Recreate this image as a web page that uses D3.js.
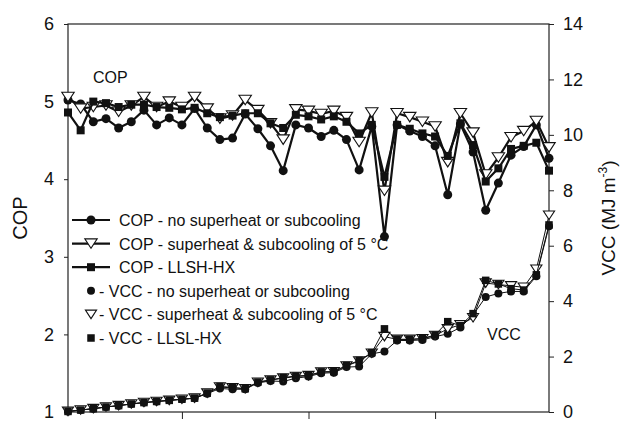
<!DOCTYPE html>
<html>
<head>
<meta charset="utf-8">
<script src="https://cdn.jsdelivr.net/npm/d3@7"></script>
<style>
  body { margin: 0; background: #fff; }
  svg text { font-family: "Liberation Sans", Arial, Helvetica, sans-serif; fill: #111; }
</style>
</head>
<body>
<div id="chart"></div>
<script>
// run number (x), unlabeled in the figure
const runs = [1, 2, 3, 4, 5, 6, 7, 8, 9, 10, 11, 12, 13, 14, 15, 16, 17, 18, 19, 20,
              21, 22, 23, 24, 25, 26, 27, 28, 29, 30, 31, 32, 33, 34, 35, 36, 37, 38, 39];
const runTicks = [10, 20, 30];
const copTicks = [1, 2, 3, 4, 5, 6];
const vccTicks = [0, 2, 4, 6, 8, 10, 12, 14];

// COP (left axis)
const copNone = [5.02, 4.97, 4.74, 4.78, 4.66, 4.74, 4.89, 4.70, 4.79, 4.70,
                 4.91, 4.66, 4.51, 4.53, 4.84, 4.65, 4.43, 4.11, 4.70, 4.66,
                 4.55, 4.63, 4.51, 4.12, 4.68, 3.26, 4.70, 4.62, 4.55, 4.43,
                 3.80, 4.71, 4.35, 3.60, 3.95, 4.31, 4.42, 4.70, 4.27];
const copSHSC = [5.06, 4.91, 4.93, 4.95, 4.87, 4.95, 5.06, 4.93, 5.00, 4.93,
                 5.06, 4.91, 4.78, 4.82, 5.02, 4.89, 4.72, 4.51, 4.90, 4.88,
                 4.84, 4.88, 4.80, 4.48, 4.86, 3.85, 4.85, 4.80, 4.74, 4.68,
                 4.22, 4.85, 4.60, 4.06, 4.28, 4.54, 4.62, 4.75, 4.41];
const copLLSH = [4.86, 4.63, 5.00, 4.98, 4.93, 4.96, 4.96, 4.93, 4.92, 4.90,
                 4.92, 4.85, 4.80, 4.82, 4.85, 4.85, 4.72, 4.66, 4.83, 4.81,
                 4.77, 4.81, 4.74, 4.59, 4.70, 4.03, 4.70, 4.65, 4.59, 4.55,
                 4.30, 4.72, 4.44, 3.97, 4.14, 4.39, 4.43, 4.47, 4.11];

// VCC in MJ m-3 (right axis)
const vccNone = [0.02, 0.07, 0.12, 0.18, 0.23, 0.29, 0.34, 0.38, 0.42, 0.46,
                 0.50, 0.66, 0.85, 0.82, 0.82, 1.05, 1.12, 1.10, 1.22, 1.28,
                 1.40, 1.42, 1.62, 1.64, 2.10, 2.18, 2.58, 2.58, 2.60, 2.72,
                 2.82, 3.05, 3.50, 4.15, 4.28, 4.35, 4.35, 4.90, 6.70];
const vccSHSC = [0.02, 0.07, 0.12, 0.18, 0.23, 0.29, 0.34, 0.38, 0.42, 0.46,
                 0.50, 0.68, 0.90, 0.87, 0.84, 1.07, 1.15, 1.22, 1.28, 1.31,
                 1.44, 1.45, 1.66, 1.84, 2.12, 2.72, 2.62, 2.62, 2.64, 2.76,
                 3.00, 3.15, 3.40, 4.65, 4.60, 4.55, 4.50, 5.15, 7.10];
const vccLLSL = [0.02, 0.07, 0.12, 0.18, 0.23, 0.29, 0.34, 0.38, 0.42, 0.46,
                 0.50, 0.68, 0.92, 0.89, 0.84, 1.08, 1.16, 1.24, 1.30, 1.32,
                 1.45, 1.46, 1.68, 1.86, 2.14, 3.00, 2.62, 2.62, 2.65, 2.78,
                 3.26, 3.12, 3.55, 4.75, 4.62, 4.45, 4.40, 4.95, 6.75];

const copLabels = ["COP - no superheat or subcooling",
                   "COP - superheat & subcooling of 5 \u00B0C",
                   "COP - LLSH-HX"];
const vccLabels = ["- VCC - no superheat or subcooling",
                   "- VCC - superheat & subcooling of 5 \u00B0C",
                   "- VCC - LLSL-HX"];

const W = 622, H = 421;
const plot = {left: 68, right: 549, top: 24, bottom: 412};

const svg = d3.select("#chart").append("svg")
    .attr("width", W)
    .attr("height", H);

const x = d3.scaleLinear().domain([1, 39]).range([plot.left, plot.right]);
const yCop = d3.scaleLinear().domain([1, 6]).range([plot.bottom, plot.top]);
const yVcc = d3.scaleLinear().domain([0, 14]).range([plot.bottom, plot.top]);

// marker shapes
function drawMarker(g, shape, cx, cy, s) {
    if (shape === "circle") {
        g.append("circle").attr("cx", cx).attr("cy", cy).attr("r", s / 2)
            .attr("fill", "#111");
    } else if (shape === "square") {
        g.append("rect").attr("x", cx - s / 2).attr("y", cy - s / 2)
            .attr("width", s).attr("height", s).attr("fill", "#111");
    } else {
        const w = s * 0.62, h = s * 0.95;
        g.append("path")
            .attr("d", `M${cx - w},${cy - h / 2}L${cx + w},${cy - h / 2}L${cx},${cy + h / 2}Z`)
            .attr("fill", "#fff").attr("stroke", "#111").attr("stroke-width", 1.1);
    }
}

// axes
svg.append("g")
    .attr("transform", `translate(${plot.left},0)`)
    .call(d3.axisLeft(yCop).tickValues(copTicks).tickFormat(d3.format("d"))
        .tickSize(4).tickPadding(10).tickSizeOuter(0))
    .call(g => g.select(".domain").remove())
    .call(g => g.selectAll("text").style("font-size", "18px"));

svg.append("g")
    .attr("transform", `translate(${plot.right},0)`)
    .call(d3.axisRight(yVcc).tickValues(vccTicks).tickFormat(d3.format("d"))
        .tickSize(5).tickPadding(9).tickSizeOuter(0))
    .call(g => g.select(".domain").remove())
    .call(g => g.selectAll("text").style("font-size", "18px"));

svg.append("g")
    .attr("transform", `translate(0,${plot.bottom})`)
    .call(d3.axisBottom(x).tickValues(runTicks).tickSize(7).tickFormat("").tickSizeOuter(0))
    .call(g => g.select(".domain").remove());

svg.selectAll(".tick line").attr("stroke", "#222");

// frame
svg.append("rect")
    .attr("x", plot.left).attr("y", plot.top)
    .attr("width", plot.right - plot.left).attr("height", plot.bottom - plot.top)
    .attr("fill", "none").attr("stroke", "#222").attr("stroke-width", 1.2);

// axis titles
svg.append("text")
    .attr("transform", `translate(27,218) rotate(-90)`)
    .attr("text-anchor", "middle")
    .style("font-size", "20px")
    .text("COP");

const vt = svg.append("text")
    .attr("transform", `translate(615,218) rotate(-90)`)
    .attr("text-anchor", "middle")
    .style("font-size", "19px");
vt.append("tspan").text("VCC (MJ m");
vt.append("tspan").attr("dy", -8).style("font-size", "12px").text("-3");
vt.append("tspan").attr("dy", 8).text(")");

// series
const copSeries = [
    {values: copNone, shape: "circle", size: 9},
    {values: copSHSC, shape: "triangle", size: 10},
    {values: copLLSH, shape: "square", size: 8}
];
const vccSeries = [
    {values: vccNone, shape: "circle", size: 8},
    {values: vccSHSC, shape: "triangle", size: 9},
    {values: vccLLSL, shape: "square", size: 7.5}
];

const copLine = d3.line().x((d, i) => x(runs[i])).y(d => yCop(d));
const vccLine = d3.line().x((d, i) => x(runs[i])).y(d => yVcc(d));

vccSeries.forEach(s => {
    const g = svg.append("g");
    g.append("path").attr("d", vccLine(s.values))
        .attr("fill", "none").attr("stroke", "#111").attr("stroke-width", 1);
    s.values.forEach((v, i) => drawMarker(g, s.shape, x(runs[i]), yVcc(v), s.size));
});

copSeries.forEach(s => {
    const g = svg.append("g");
    g.append("path").attr("d", copLine(s.values))
        .attr("fill", "none").attr("stroke", "#111").attr("stroke-width", 2.2)
        .attr("stroke-linejoin", "round");
    s.values.forEach((v, i) => drawMarker(g, s.shape, x(runs[i]), yCop(v), s.size));
});

// annotations
svg.append("text").attr("x", 93).attr("y", 83).style("font-size", "16px").text("COP");
svg.append("text").attr("x", 487).attr("y", 340).style("font-size", "16px").text("VCC");

// legend
const legY = [226, 249.6, 273.2, 296.8, 320.4, 344];
const legend = svg.append("g");
copSeries.forEach((s, i) => {
    const cy = legY[i] - 6;
    legend.append("line").attr("x1", 72).attr("x2", 110).attr("y1", cy).attr("y2", cy)
        .attr("stroke", "#111").attr("stroke-width", 2.2);
    drawMarker(legend, s.shape, 91, cy, s.size);
    legend.append("text").attr("x", 119).attr("y", legY[i])
        .style("font-size", "16px").text(copLabels[i]);
});
vccSeries.forEach((s, i) => {
    const cy = legY[i + 3] - 6;
    drawMarker(legend, s.shape, 91, cy, s.size);
    legend.append("text").attr("x", 99).attr("y", legY[i + 3])
        .style("font-size", "16px").text(vccLabels[i]);
});
</script>
</body>
</html>
